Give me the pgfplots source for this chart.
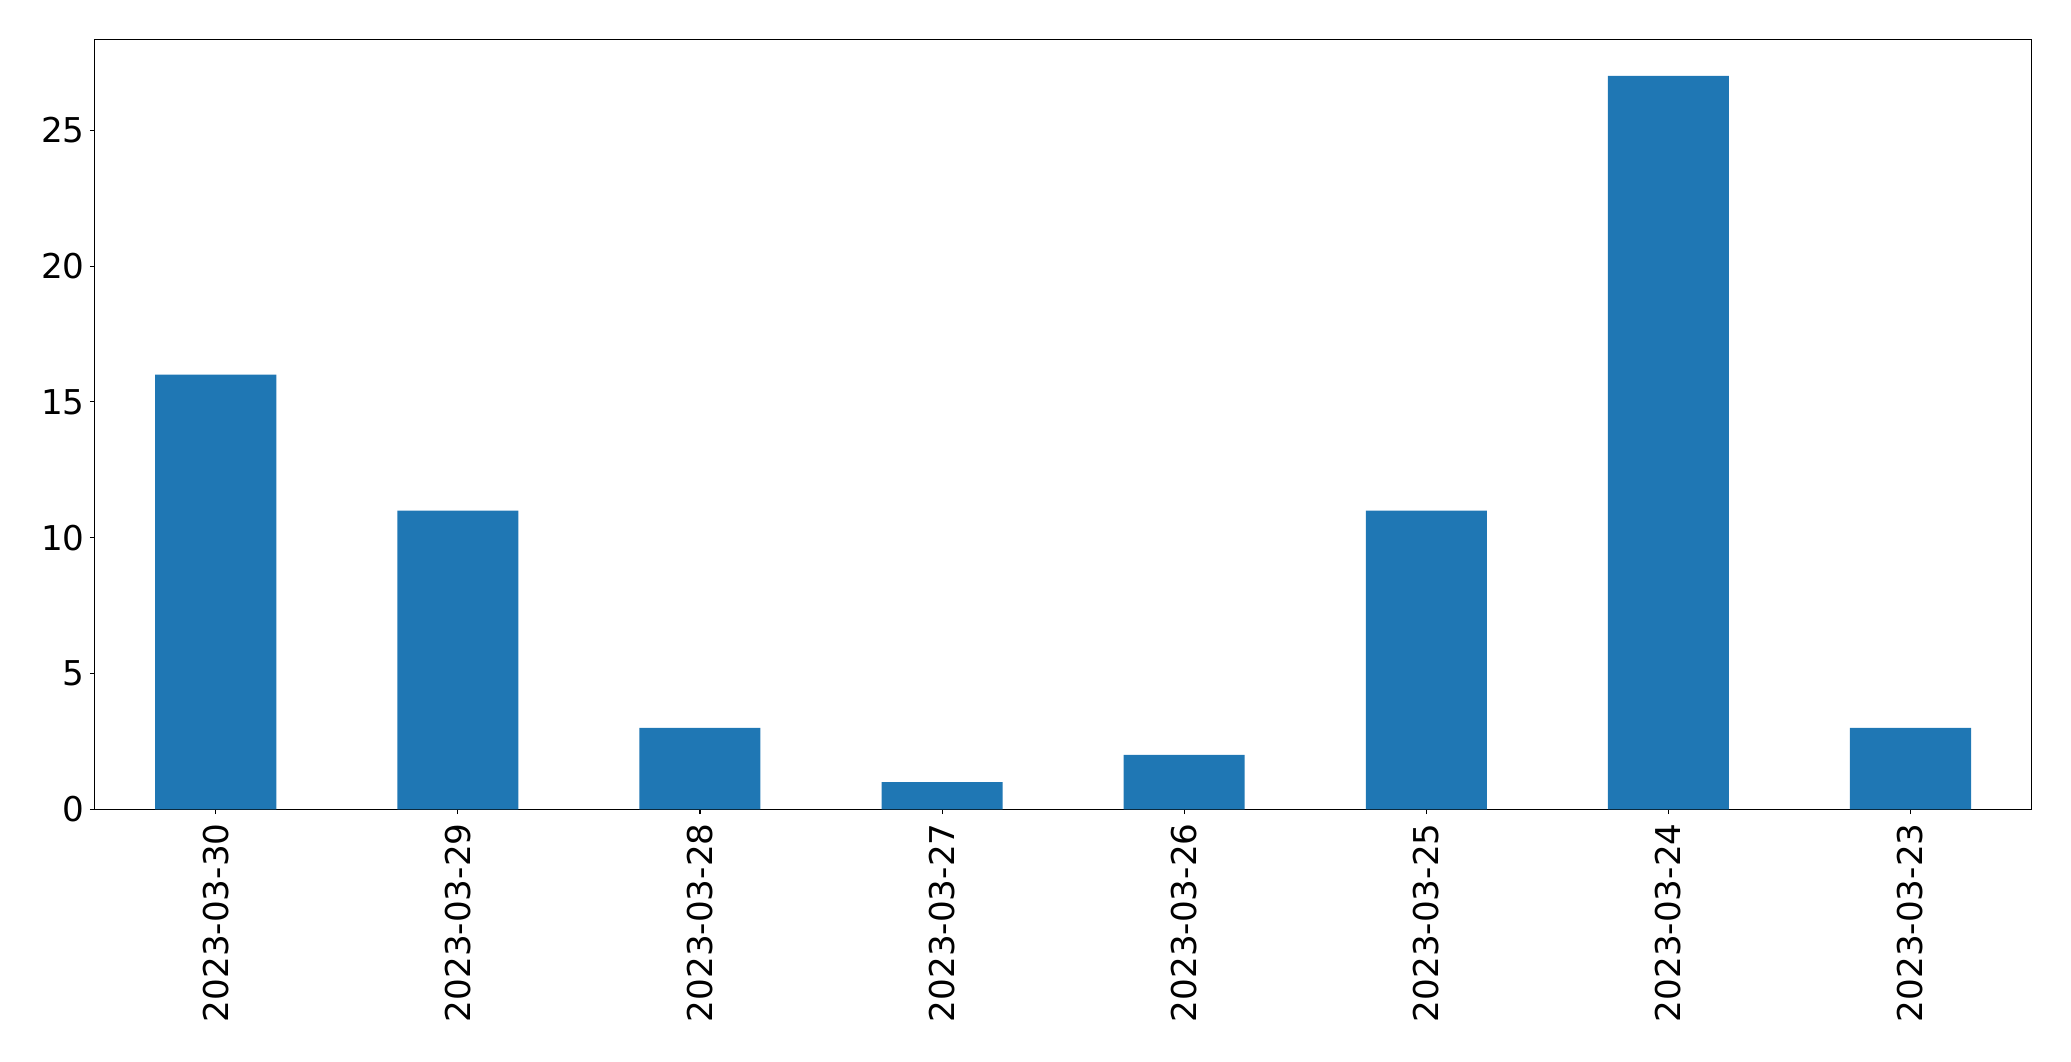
\documentclass[border=0pt]{standalone}
\usepackage{fontspec}
\setmainfont{DejaVu Sans}
\usepackage{pgfplots}
\pgfplotsset{compat=1.18}
\definecolor{mplblue}{HTML}{1F77B4}
\begin{document}
\begin{tikzpicture}
\path[use as bounding box] (-68.18pt,-181.22pt) rectangle (1422.94pt,582.70pt);
\begin{axis}[
  scale only axis,
  width=1394.6pt, height=554.4pt,
  xmin=-0.5, xmax=7.5, ymin=0, ymax=28.35,
  ybar, bar width=0.5,
  xtick={0,...,7},
  xticklabels={2023-03-30,2023-03-29,2023-03-28,2023-03-27,2023-03-26,2023-03-25,2023-03-24,2023-03-23},
  ytick={0,5,10,15,20,25},
  tick align=outside,
  major tick length=3.5pt,
  xtick pos=bottom, ytick pos=left,
  axis line style={line width=0.8pt},
  every tick/.style={black, line width=0.8pt},
  /pgf/number format/assume math mode=true,
  tick label style={font=\fontsize{24.6}{28}\selectfont},
  xticklabel style={rotate=90, anchor=east, inner sep=6.5pt},
  yticklabel style={inner sep=3.5pt},
]
\addplot[fill=mplblue, draw=none] coordinates {(0,16) (1,11) (2,3) (3,1) (4,2) (5,11) (6,27) (7,3)};
\end{axis}
\end{tikzpicture}
\end{document}
